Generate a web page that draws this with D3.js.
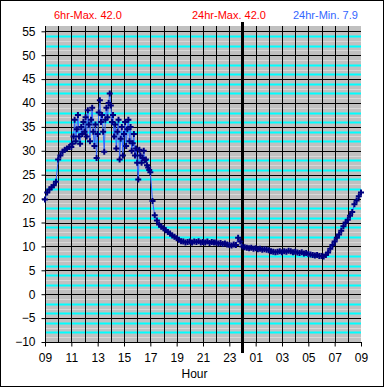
<!DOCTYPE html>
<html><head><meta charset="utf-8">
<script src="https://cdn.jsdelivr.net/npm/d3@7"></script>
<style>body{margin:0;background:#fff}svg{display:block}text{font-family:"Liberation Sans",Arial,sans-serif}</style>
</head><body><svg id="c" width="385" height="388"></svg>
<script>
// ---- data ----
// 09:00 - 10:50, one reading every 10 minutes
const morningStart = 9, morningStep = 10;
const morningTemps = [
  19.8, 21.3, 21.9, 22.4, 22.8, 23.5,   // 09
  28.2, 29.0, 29.8, 30.2, 30.5, 30.8    // 10
];
// 11:00 - 16:55, one reading every 5 minutes
const afternoonStart = 11, afternoonStep = 5;
const afternoonTemps = [
  30.8, 31.5, 33.0, 36.5, 32.0, 34.5, 37.5, 33.0, 31.5, 35.0, 33.5, 36.0,  // 11
  34.0, 37.0, 33.0, 38.5, 35.5, 32.0, 36.5, 39.0, 34.0, 31.0, 35.5, 28.5,  // 12
  33.5, 38.0, 40.6, 36.0, 37.5, 34.0, 29.8, 36.5, 39.0, 37.0, 40.0, 42.0,  // 13
  39.5, 36.0, 37.5, 33.0, 35.5, 30.5, 34.0, 36.5, 28.2, 32.5, 35.0, 29.0,  // 14
  33.5, 36.0, 31.0, 34.5, 36.5, 32.0, 35.0, 30.0, 31.6, 33.5, 29.0, 30.5,  // 15
  27.5, 24.0, 30.2, 29.0, 27.5, 28.5, 30.0, 28.0, 28.2, 27.0, 26.5, 26.0   // 16
];
// 17:00 - 09:00 next day, one reading every 10 minutes
const nightStart = 17, nightStep = 10;
const nightTemps = [
  25.5, 19.5, 16.5, 15.4, 14.6, 14.1,   // 17
  13.8, 13.4, 13.0, 12.7, 12.3, 12.0,   // 18
  11.7, 11.4, 11.1, 11.0, 10.8, 10.9,   // 19
  11.0, 10.8, 11.0, 10.9, 11.1, 10.8,   // 20
  10.9, 10.8, 11.0, 10.7, 10.9, 10.8,   // 21
  10.8, 10.6, 10.7, 10.5, 10.6, 10.4,   // 22
  10.3, 10.2, 10.4, 10.3, 11.8, 11.0,   // 23
  10.0,  9.8,  9.7,  9.6,  9.7,  9.5,   // 00
   9.6,  9.4,  9.5,  9.3,  9.4,  9.3,   // 01
   9.2,  9.0,  8.9,  8.8,  8.9,  9.0,   // 02
   8.8,  9.0,  8.9,  9.1,  9.0,  8.8,   // 03
   8.9,  8.7,  8.6,  8.8,  8.5,  8.6,   // 04
   8.4,  8.3,  8.2,  8.1,  8.2,  8.0,   // 05
   8.0,  7.9,  8.2,  8.7,  9.5, 10.3,   // 06
  11.0, 11.8, 12.5, 13.3, 14.2, 15.0,   // 07
  15.6, 16.4, 17.2, 18.8, 19.6, 20.5,   // 08
  21.3                                  // 09
];
const yTicks = [-10, -5, 0, 5, 10, 15, 20, 25, 30, 35, 40, 45, 50, 55];
const xTickHours = [9, 11, 13, 15, 17, 19, 21, 23, 25, 27, 29, 31, 33];
const xTickLabels = ["09","11","13","15","17","19","21","23","01","03","05","07","09"];
const headerTexts = ["6hr-Max. 42.0", "24hr-Max. 42.0", "24hr-Min. 7.9"];
const xTitle = "Hour";

// ---- layout ----
const svg = d3.select("#c");
const L = 45, R = 361, T = 26, B = 342;
const x = d3.scaleLinear().domain([9, 33]).range([L, R]);
const y = d3.scaleLinear().domain([-10, 55]).range([B, 31.3]);

svg.append("rect").attr("x",0.5).attr("y",0.5).attr("width",383).attr("height",386)
  .attr("fill","#fff").attr("stroke","#000");

svg.append("rect").attr("x",L).attr("y",T).attr("width",R-L).attr("height",B-T).attr("fill","#c0c0c0");

// minor horizontal grid
const minor = d3.range(-9, 56).filter(v => v % 5 !== 0);
svg.append("g").selectAll("line").data(minor).join("line")
  .attr("x1",L).attr("x2",R)
  .attr("y1",d=>Math.round(y(d))+0.5).attr("y2",d=>Math.round(y(d))+0.5)
  .attr("stroke", d => (Math.abs(d) % 2 === 0) ? "#00ffff" : "#d8d8d8")
  .attr("stroke-width", d => (Math.abs(d) % 2 === 0) ? 2 : 1);

// major horizontal grid
svg.append("g").selectAll("line").data(yTicks).join("line")
  .attr("x1",L).attr("x2",R)
  .attr("y1",d=>Math.round(y(d))+0.5).attr("y2",d=>Math.round(y(d))+0.5)
  .attr("stroke","#000");

// vertical grid every hour
svg.append("g").selectAll("line").data(d3.range(10, 33)).join("line")
  .attr("y1",T).attr("y2",B)
  .attr("x1",d=>Math.round(x(d))+0.5).attr("x2",d=>Math.round(x(d))+0.5)
  .attr("stroke","#000");

// axes
const yAxis = d3.axisLeft(y).tickValues(yTicks).tickSize(4).tickPadding(6);
const gy = svg.append("g").attr("transform",`translate(${L+0.5},0)`).call(yAxis);
gy.select(".domain").remove();
gy.append("line").attr("x1",0).attr("x2",0).attr("y1",T).attr("y2",B+0.5).attr("stroke","#000");
gy.selectAll(".tick line").attr("stroke","#000");
gy.selectAll(".tick text").attr("font-size",12).attr("fill","#000")
  .attr("font-family","'Liberation Sans',Arial,sans-serif");

const xAxis = d3.axisBottom(x).tickValues(xTickHours).tickSize(4).tickPadding(7)
  .tickFormat((d,i) => xTickLabels[i]);
const gx = svg.append("g").attr("transform",`translate(0,${B+0.5})`).call(xAxis);
gx.select(".domain").remove();
gx.append("line").attr("x1",L).attr("x2",R+1).attr("y1",0).attr("y2",0).attr("stroke","#000");
gx.selectAll(".tick line").attr("stroke","#000");
gx.selectAll(".tick text").attr("font-size",12).attr("fill","#000")
  .attr("font-family","'Liberation Sans',Arial,sans-serif");

// midnight line
svg.append("line").attr("x1",x(24)).attr("x2",x(24)).attr("y1",22).attr("y2",353)
  .attr("stroke","#000").attr("stroke-width",3);

// data
const seg = (start, step, arr) => arr.map((v,i) => ({h: start + i*step/60, v}));
const pts = [].concat(
  seg(morningStart, morningStep, morningTemps),
  seg(afternoonStart, afternoonStep, afternoonTemps),
  seg(nightStart, nightStep, nightTemps)
);
svg.append("path").datum(pts)
  .attr("d", d3.line().x(d=>x(d.h)).y(d=>y(d.v)))
  .attr("fill","none").attr("stroke","#3366ff").attr("stroke-width",1);
svg.append("g").selectAll("path").data(pts).join("path")
  .attr("transform", d=>`translate(${x(d.h)},${y(d.v)})`)
  .attr("d","M-3,0H3M0,-3V3")
  .attr("stroke","#000080").attr("stroke-width",2).attr("fill","none");

// header texts
const hx = [54, 192, 293], hc = ["#ff0000","#ff0000","#3366ff"];
svg.append("g").selectAll("text").data(headerTexts).join("text")
  .attr("x",(d,i)=>hx[i]).attr("y",19).attr("font-size",11)
  .attr("fill",(d,i)=>hc[i]).text(d=>d);

svg.append("text").attr("x",194.5).attr("y",378).attr("text-anchor","middle")
  .attr("font-size",12).attr("fill","#000").text(xTitle);
</script></body></html>
